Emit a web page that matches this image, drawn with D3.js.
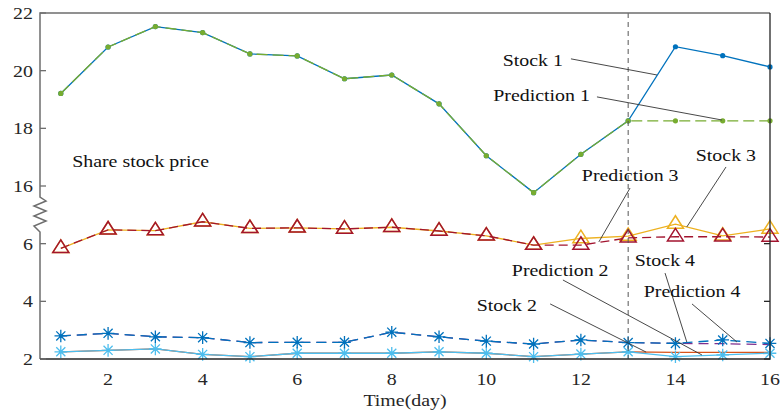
<!DOCTYPE html>
<html>
<head>
<meta charset="utf-8">
<script src="https://cdn.jsdelivr.net/npm/d3@7"></script>
<style>
  body { margin: 0; background: #fff; }
  text { font-family: "Times New Roman", "Liberation Serif", Times, serif; font-size: 17px; fill: #262626; }
</style>
</head>
<body>
<svg id="chart" width="783" height="414"></svg>
<script>
// data
var days = [1, 2, 3, 4, 5, 6, 7, 8, 9, 10, 11, 12, 13, 14, 15, 16];
var stock1 = [19.21, 20.82, 21.53, 21.32, 20.58, 20.51, 19.72, 19.85, 18.85, 17.05, 15.77, 17.1, 18.26, 20.83, 20.52, 20.13];
var pred1  = [19.21, 20.82, 21.53, 21.32, 20.58, 20.51, 19.72, 19.85, 18.85, 17.05, 15.77, 17.1, 18.26, 18.26, 18.26, 18.26];
var stock2 = [2.25, 2.3, 2.35, 2.16, 2.08, 2.2, 2.2, 2.2, 2.25, 2.2, 2.08, 2.17, 2.25, 2.08, 2.14, 2.2];
var pred2  = [2.25, 2.3, 2.35, 2.16, 2.08, 2.2, 2.2, 2.2, 2.25, 2.2, 2.08, 2.17, 2.25, 2.23, 2.23, 2.23];
var stock3 = [5.84, 6.48, 6.45, 6.76, 6.53, 6.55, 6.51, 6.57, 6.44, 6.27, 5.95, 6.18, 6.26, 6.68, 6.27, 6.51];
var pred3  = [5.84, 6.48, 6.45, 6.76, 6.53, 6.55, 6.51, 6.57, 6.44, 6.27, 5.95, 5.95, 6.2, 6.24, 6.24, 6.23];
var stock4 = [2.8, 2.89, 2.77, 2.74, 2.57, 2.58, 2.58, 2.93, 2.77, 2.62, 2.52, 2.66, 2.57, 2.54, 2.66, 2.54];
var pred4  = [2.8, 2.89, 2.77, 2.74, 2.57, 2.58, 2.58, 2.93, 2.77, 2.62, 2.52, 2.66, 2.57, 2.54, 2.53, 2.5];

var xTicks = [2, 4, 6, 8, 10, 12, 14, 16];
var yTicksLow = [2, 4, 6];
var yTicksHigh = [16, 18, 20, 22];
var splitDay = 13;

(function() {
  var svg = d3.select('#chart');
  var mLeft = 40, mRight = 770, mTop = 13, mBottom = 359;

  var x = d3.scaleLinear().domain([0.56, 16]).range([mLeft, mRight]);
  // broken axis: the upper band 16..22 is drawn shifted down by 8
  var y = d3.scaleLinear().domain([2, 14]).range([mBottom, mTop]);
  var yv = function(v) { return y(v > 10 ? v - 8 : v); };

  var label = function(g, px, py, str, anchor) {
    return g.append('text')
      .attr('transform', 'translate(' + px + ',' + py + ') scale(1.17,1)')
      .attr('text-anchor', anchor)
      .text(str);
  };

  // series, drawn in order (later ones on top)
  var series = [
    { values: stock1, color: '#0072BD', dash: null, marker: 'dot' },
    { values: pred1, color: '#77AC30', dash: '11,5', marker: 'dot' },
    { values: stock3, color: '#EDB120', dash: null, marker: 'tri' },
    { values: pred3, color: '#A2142F', dash: '9,5', marker: 'tri' },
    { values: pred2, color: '#D95319', dash: null, marker: null },
    { values: stock2, color: '#4DBEEE', dash: null, marker: 'star' },
    { values: pred4, color: '#7E2F8E', dash: '10,6', marker: null },
    { values: stock4, color: '#0072BD', dash: '10,6', marker: 'star' }
  ];

  var line = d3.line()
    .x(function(d, i) { return x(days[i]); })
    .y(function(d) { return yv(d); });

  var tw = 16, th = 12.5, ss = 6.3;
  var triPath = 'M0,' + (-2 * th / 3) + 'L' + (tw / 2) + ',' + (th / 3) + 'L' + (-tw / 2) + ',' + (th / 3) + 'Z';
  var starPath = 'M' + (-ss) + ',0H' + ss + 'M0,' + (-ss) + 'V' + ss +
    'M' + (-ss * 0.72) + ',' + (-ss * 0.72) + 'L' + (ss * 0.72) + ',' + (ss * 0.72) +
    'M' + (-ss * 0.72) + ',' + (ss * 0.72) + 'L' + (ss * 0.72) + ',' + (-ss * 0.72);

  var plot = svg.append('g');

  series.forEach(function(s) {
    plot.append('path')
      .attr('d', line(s.values))
      .attr('fill', 'none')
      .attr('stroke', s.color)
      .attr('stroke-width', 1.3)
      .attr('stroke-dasharray', s.dash);

    if (s.marker === 'dot') {
      plot.selectAll(null).data(s.values).enter().append('circle')
        .attr('cx', function(d, i) { return x(days[i]); })
        .attr('cy', function(d) { return yv(d); })
        .attr('r', 2.6)
        .attr('fill', s.color);
    } else if (s.marker === 'tri' || s.marker === 'star') {
      plot.selectAll(null).data(s.values).enter().append('path')
        .attr('transform', function(d, i) { return 'translate(' + x(days[i]) + ',' + yv(d) + ')'; })
        .attr('d', s.marker === 'tri' ? triPath : starPath)
        .attr('fill', 'none')
        .attr('stroke', s.color)
        .attr('stroke-width', s.marker === 'tri' ? 1.5 : 1.3);
      if (s.marker === 'star') {
        plot.selectAll(null).data(s.values).enter().append('circle')
          .attr('cx', function(d, i) { return x(days[i]); })
          .attr('cy', function(d) { return yv(d); })
          .attr('r', 1.6)
          .attr('fill', s.color);
      }
    }
  });

  // split line at the forecast start
  svg.append('line')
    .attr('x1', x(splitDay)).attr('x2', x(splitDay))
    .attr('y1', mTop).attr('y2', mBottom)
    .attr('stroke', '#555').attr('stroke-width', 1)
    .attr('stroke-dasharray', '5,4');

  // frame
  var gray = '#6e6e6e', dark = '#262626';
  var breakTop = 197, breakBot = 232;
  svg.append('path')
    .attr('d', 'M' + mRight + ',' + mTop + 'H' + mLeft + 'V' + breakTop +
      'L46,201L34,206L46,211L34,216L46,221L34,226L' + mLeft + ',' + breakBot + 'V' + mBottom)
    .attr('fill', 'none').attr('stroke', gray).attr('stroke-width', 1.5);
  svg.append('path')
    .attr('d', 'M' + mLeft + ',' + mBottom + 'H' + mRight + 'V' + mTop)
    .attr('fill', 'none').attr('stroke', dark).attr('stroke-width', 1.3);

  // y ticks and labels
  var ax = svg.append('g');
  yTicksLow.concat(yTicksHigh).forEach(function(t) {
    ax.append('line')
      .attr('x1', mLeft).attr('x2', mLeft + 6)
      .attr('y1', yv(t)).attr('y2', yv(t))
      .attr('stroke', gray).attr('stroke-width', 1.3);
    label(ax, mLeft - 7, yv(t) + 6, String(t), 'end');
  });
  yTicksLow.forEach(function(t) {
    ax.append('line')
      .attr('x1', mRight).attr('x2', mRight - 6)
      .attr('y1', yv(t)).attr('y2', yv(t))
      .attr('stroke', dark).attr('stroke-width', 1.3);
  });

  // x tick labels and title
  xTicks.forEach(function(t) {
    label(ax, x(t), mBottom + 26, String(t), 'middle');
  });
  label(ax, (mLeft + mRight) / 2, 406, 'Time(day)', 'middle');

  // annotations (positions in data units)
  var notes = [
    { text: 'Stock 1', tx: 11.62, ty: 20.16, anchor: 'end', x1: 11.79, y1: 20.41, x2: 13.61, y2: 19.85 },
    { text: 'Prediction 1', tx: 12.19, ty: 18.95, anchor: 'end', x1: 12.34, y1: 19.09, x2: 14.98, y2: 18.29 },
    { text: 'Stock 3', tx: 14.43, ty: 16.87, anchor: 'start', x1: 15.07, y1: 16.66, x2: 14.24, y2: 6.58 },
    { text: 'Prediction 3', tx: 12.02, ty: 16.17, anchor: 'start', x1: 13.04, y1: 15.93, x2: 12.38, y2: 6.06 },
    { text: 'Prediction 2', tx: 10.54, ty: 4.88, anchor: 'start', x1: 11.62, y1: 4.74, x2: 14.56, y2: 2.14 },
    { text: 'Stock 2', tx: 11.07, ty: 3.66, anchor: 'end', x1: 11.35, y1: 3.91, x2: 13.38, y2: 2.24 },
    { text: 'Stock 4', tx: 13.14, ty: 5.23, anchor: 'start', x1: 13.78, y1: 4.98, x2: 14.24, y2: 2.59 },
    { text: 'Prediction 4', tx: 13.33, ty: 4.15, anchor: 'start', x1: 14.35, y1: 3.91, x2: 15.3, y2: 2.59 }
  ];
  var ann = svg.append('g');
  notes.forEach(function(n) {
    ann.append('line')
      .attr('x1', x(n.x1)).attr('y1', yv(n.y1))
      .attr('x2', x(n.x2)).attr('y2', yv(n.y2))
      .attr('stroke', '#333').attr('stroke-width', 0.9);
    label(ann, x(n.tx), yv(n.ty), n.text, n.anchor).style('fill', '#111');
  });
  label(ann, x(1.24), yv(16.66), 'Share stock price', 'start').style('fill', '#111');
})();
</script>
</body>
</html>
